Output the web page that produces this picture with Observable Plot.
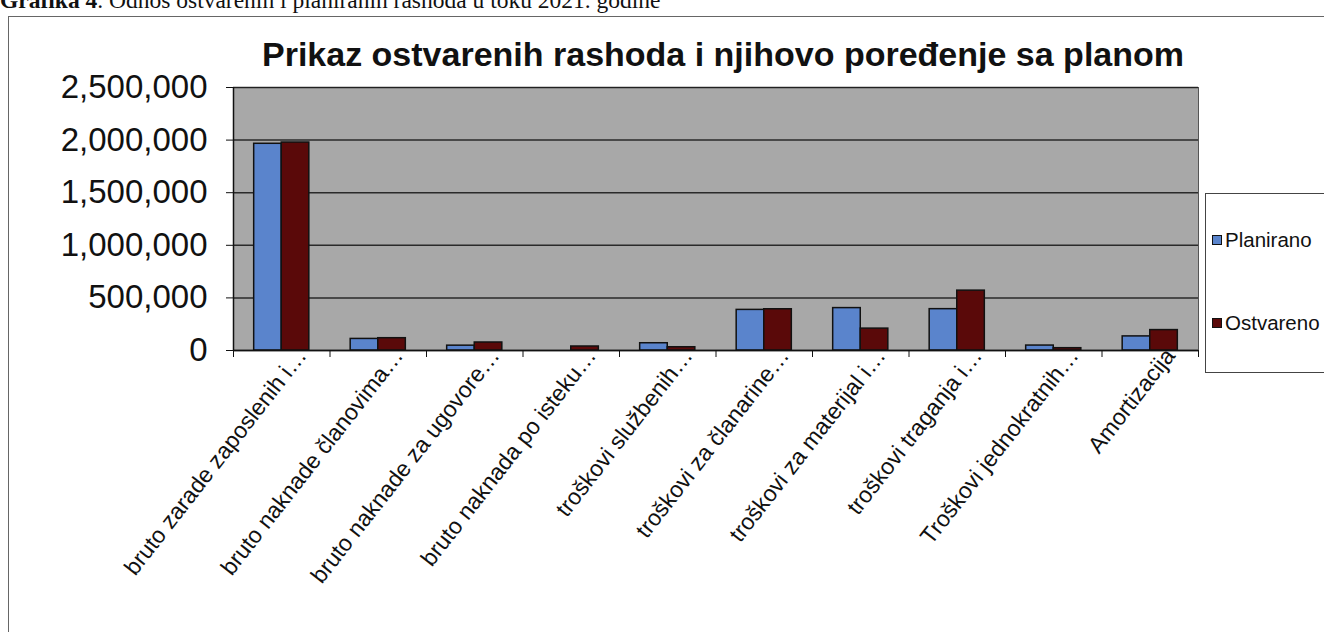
<!DOCTYPE html>
<html>
<head>
<meta charset="utf-8">
<script src="https://cdn.jsdelivr.net/npm/d3@7"></script>
<script src="https://cdn.jsdelivr.net/npm/@observablehq/plot@0.6"></script>
<style>
  html, body { margin: 0; padding: 0; background: #fff; width: 1324px; height: 632px; overflow: hidden; }
  #wrap { position: relative; width: 1324px; height: 632px; overflow: hidden; }
  #header { position: absolute; left: 0; top: -12px; font-family: "Liberation Serif", serif; font-size: 23.5px; line-height: 24px; color: #111; white-space: nowrap; }
  #border { position: absolute; left: 8px; top: 16px; width: 1400px; height: 700px; border: 1.5px solid #666; box-sizing: border-box; }
  #title { position: absolute; left: 133px; width: 1180px; top: 35px; text-align: center; font-family: "Liberation Sans", Arial, sans-serif; font-weight: bold; font-size: 34px; color: #111; white-space: nowrap; }
  #chart { position: absolute; left: 0; top: 0; }
  #legend { position: absolute; left: 1205px; top: 193px; width: 200px; height: 180px; border: 1.5px solid #444; background: #fff; box-sizing: border-box; font-family: "Liberation Sans", Arial, sans-serif; font-size: 20.5px; color: #111; }
  .item { position: absolute; left: 6px; display: flex; align-items: center; white-space: nowrap; }
  .sw { width: 8px; height: 8px; border: 1.5px solid #111; margin-right: 3px; }
</style>
</head>
<body>
<div id="wrap">
  <div id="header"><b>Grafika 4</b>. Odnos ostvarenih i planiranih rashoda u toku 2021. godine</div>
  <div id="border"></div>
  <div id="chart"></div>
  <div id="title">Prikaz ostvarenih rashoda i njihovo poređenje sa planom</div>
  <div id="legend"></div>
</div>
<script>
const categories = [
  "bruto zarade zaposlenih i…",
  "bruto naknade članovima…",
  "bruto naknade za ugovore…",
  "bruto naknada po isteku…",
  "troškovi službenih…",
  "troškovi za članarine…",
  "troškovi za materijal i…",
  "troškovi traganja i…",
  "Troškovi jednokratnih…",
  "Amortizacija"
];
const series = ["Planirano", "Ostvareno"];
const planirano = [1965000, 110000, 46000, 0, 69000, 386000, 403000, 393000, 47000, 134000];
const ostvareno = [1977000, 117000, 76000, 38000, 31000, 392000, 208000, 569000, 22000, 194000];
const yTicks = [0, 500000, 1000000, 1500000, 2000000, 2500000];
const seriesColors = ["#5a84cc", "#5a0909"];
const gapWidth = 1.5; // Excel-style gap width (fraction of a bar)

const values = [planirano, ostvareno];
const barW = 1 / (series.length + gapWidth);
const rows = categories.flatMap((c, i) => series.map((s, j) => {
  const x1 = i + (gapWidth / 2 + j) * barW;
  return {cat: c, series: s, value: values[j][i], x1, x2: x1 + barW};
}));

const chart = Plot.plot({
  width: 1324,
  height: 632,
  marginTop: 87,
  marginBottom: 282,
  marginLeft: 233,
  marginRight: 126,
  style: {background: "transparent", fontFamily: "Liberation Sans, Arial, sans-serif", color: "#111"},
  x: {domain: [0, categories.length], axis: null},
  y: {domain: [0, 2500000], axis: null},
  color: {domain: series, range: seriesColors},
  marks: [
    Plot.frame({fill: "#a8a8a8", stroke: "#555", strokeWidth: 1}),
    Plot.gridY({ticks: yTicks, stroke: "#1c1c1c", strokeOpacity: 0.9, strokeWidth: 1.5}),
    Plot.rectY(rows, {x1: "x1", x2: "x2", y: "value", fill: "series", stroke: "#111", strokeWidth: 1.5}),
    Plot.ruleX([0], {stroke: "#111", strokeWidth: 1.5}),
    Plot.ruleY([0], {stroke: "#111", strokeWidth: 1.5}),
    Plot.axisY({ticks: yTicks, tickFormat: d3.format(","), tickSize: 7, tickPadding: 19, fontSize: 33, label: null, stroke: "#111"}),
    Plot.axisX({ticks: d3.range(categories.length + 1), tickFormat: () => "", tickSize: 7, label: null, stroke: "#111"}),
    Plot.axisX({ticks: categories.map((c, i) => i + 0.5), tickFormat: v => categories[Math.floor(v)], tickRotate: -52, tickSize: 0, tickPadding: 4, dx: 20, dy: -3, fontSize: 23, label: null})
  ]
});
document.getElementById("chart").appendChild(chart);

const legend = document.getElementById("legend");
const legendTops = [34, 117];
series.forEach((s, j) => {
  const it = document.createElement("div");
  it.className = "item";
  it.style.top = legendTops[j] + "px";
  it.innerHTML = `<span class="sw" style="background:${seriesColors[j]}"></span><span>${s}</span>`;
  legend.appendChild(it);
});
</script>
</body>
</html>
